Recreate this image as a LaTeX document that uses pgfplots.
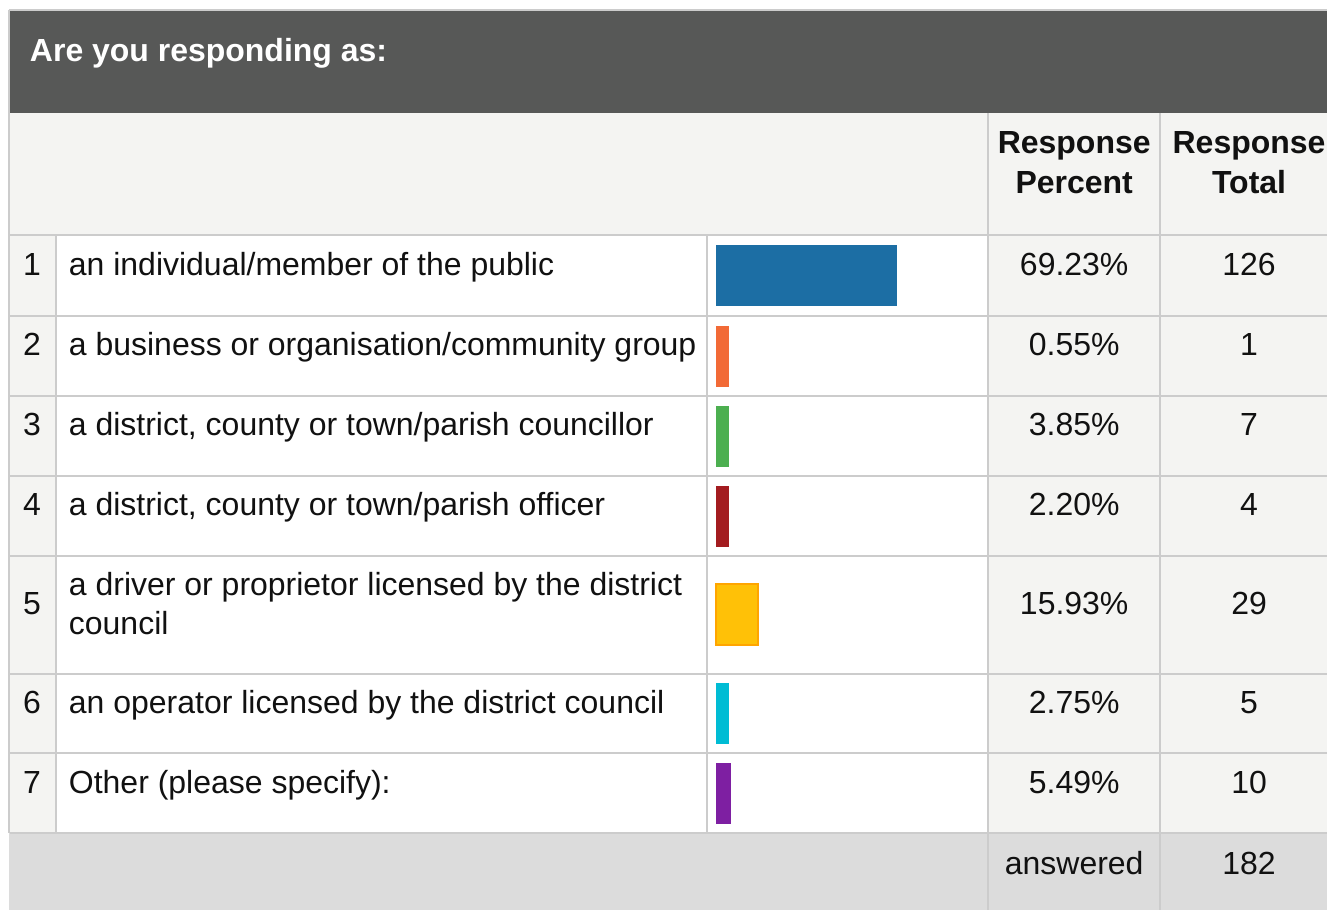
\documentclass[border=0pt]{standalone}
\usepackage{pgfplots}
\pgfplotsset{compat=1.18}
\usepackage{fontspec}
\setmainfont{Liberation Sans}
\definecolor{hdr}{HTML}{575857}
\definecolor{lightc}{HTML}{F4F4F2}
\definecolor{footc}{HTML}{DCDCDC}
\definecolor{gridc}{HTML}{CCCCCC}
\definecolor{txt}{HTML}{111111}
\definecolor{c1}{HTML}{1C6EA4}
\definecolor{c2}{HTML}{F26A36}
\definecolor{c3}{HTML}{4CAF50}
\definecolor{c4}{HTML}{A31C20}
\definecolor{c5}{HTML}{FFC107}
\definecolor{c5b}{HTML}{FFA500}
\definecolor{c6}{HTML}{00BCD4}
\definecolor{c7}{HTML}{7E1FA2}
\begin{document}
\begin{tikzpicture}
\begin{axis}[at={(0,0)}, anchor=south west, width=664pt, height=455.5pt, scale only axis,
  xmin=0, xmax=1328, ymin=0, ymax=911, y dir=reverse, axis lines=none, clip=false]
\fill[white] (0,0) rectangle (1328,911);
\fill[hdr] (10,10) rectangle (1328,113);
\fill[lightc] (10,113) rectangle (1328,235);
\fill[lightc] (10,235) rectangle (56,834);
\fill[white] (56,235) rectangle (989,834);
\fill[lightc] (989,235) rectangle (1328,834);
\fill[footc] (9,834) rectangle (1328,911);
\draw[gridc, line width=1pt] (9.5,10) -- (9.5,834);
\draw[gridc, line width=1pt] (9,10) -- (1328,10);
\draw[gridc, line width=1pt] (10,235) -- (1328,235);
\draw[gridc, line width=1pt] (10,316) -- (1328,316);
\draw[gridc, line width=1pt] (10,396) -- (1328,396);
\draw[gridc, line width=1pt] (10,476) -- (1328,476);
\draw[gridc, line width=1pt] (10,556) -- (1328,556);
\draw[gridc, line width=1pt] (10,674) -- (1328,674);
\draw[gridc, line width=1pt] (10,754) -- (1328,754);
\draw[gridc, line width=1pt] (10,834) -- (1328,834);
\draw[gridc, line width=1pt] (56,235) -- (56,834);
\draw[gridc, line width=1pt] (708,235) -- (708,834);
\draw[gridc, line width=1pt] (989,113) -- (989,911);
\draw[gridc, line width=1pt] (1161,113) -- (1161,911);
\begin{scope}[every node/.style={inner sep=0pt, outer sep=0pt, text=txt, font=\fontsize{16}{19.5}\selectfont}]
\node[anchor=base west, text=white, font=\fontsize{16}{19.5}\selectfont\bfseries] at (30,62) {Are you responding as:};
\node[anchor=base, font=\fontsize{16}{19.5}\selectfont\bfseries] at (1075,154) {Response};
\node[anchor=base, font=\fontsize{16}{19.5}\selectfont\bfseries] at (1075,194) {Percent};
\node[anchor=base, font=\fontsize{16}{19.5}\selectfont\bfseries] at (1250,154) {Response};
\node[anchor=base, font=\fontsize{16}{19.5}\selectfont\bfseries] at (1250,194) {Total};
% numbers
\node[anchor=base] at (32,276) {1};
\node[anchor=base] at (32,356) {2};
\node[anchor=base] at (32,436) {3};
\node[anchor=base] at (32,516) {4};
\node[anchor=base] at (32,615) {5};
\node[anchor=base] at (32,714) {6};
\node[anchor=base] at (32,794) {7};
% labels
\node[anchor=base west] at (69,276) {an individual/member of the public};
\node[anchor=base west] at (69,356) {a business or organisation/community group};
\node[anchor=base west] at (69,436) {a district, county or town/parish councillor};
\node[anchor=base west] at (69,516) {a district, county or town/parish officer};
\node[anchor=base west] at (69,596) {a driver or proprietor licensed by the district};
\node[anchor=base west] at (69,635) {council};
\node[anchor=base west] at (69,714) {an operator licensed by the district council};
\node[anchor=base west] at (69,794) {Other (please specify):};
% percents
\node[anchor=base] at (1075,276) {69.23\%};
\node[anchor=base] at (1075,356) {0.55\%};
\node[anchor=base] at (1075,436) {3.85\%};
\node[anchor=base] at (1075,516) {2.20\%};
\node[anchor=base] at (1075,615) {15.93\%};
\node[anchor=base] at (1075,714) {2.75\%};
\node[anchor=base] at (1075,794) {5.49\%};
% totals
\node[anchor=base] at (1250,276) {126};
\node[anchor=base] at (1250,356) {1};
\node[anchor=base] at (1250,436) {7};
\node[anchor=base] at (1250,516) {4};
\node[anchor=base] at (1250,615) {29};
\node[anchor=base] at (1250,714) {5};
\node[anchor=base] at (1250,794) {10};
% footer
\node[anchor=base] at (1075,875) {answered};
\node[anchor=base] at (1250,875) {182};
\end{scope}
\end{axis}
\begin{axis}[at={(358.5pt,0pt)}, anchor=south west, width=130.7pt, height=455.5pt, scale only axis,
  xmin=0, xmax=100, ymin=0, ymax=911, y dir=reverse, axis lines=none, clip=false,
  xbar, bar shift=0pt, bar width=30.5pt,
  x filter/.expression={max(x,4.97)}]
\addplot[fill=c1, draw=none] coordinates {(69.23,276)};
\addplot[fill=c2, draw=none] coordinates {(0.55,356.5)};
\addplot[fill=c3, draw=none] coordinates {(3.85,436.5)};
\addplot[fill=c4, draw=none] coordinates {(2.20,516.5)};
\addplot[fill=c5, draw=c5b, line width=1pt] coordinates {(15.93,615)};
\addplot[fill=c6, draw=none] coordinates {(2.75,714.5)};
\addplot[fill=c7, draw=none] coordinates {(5.49,794.5)};
\end{axis}
\end{tikzpicture}
\end{document}
